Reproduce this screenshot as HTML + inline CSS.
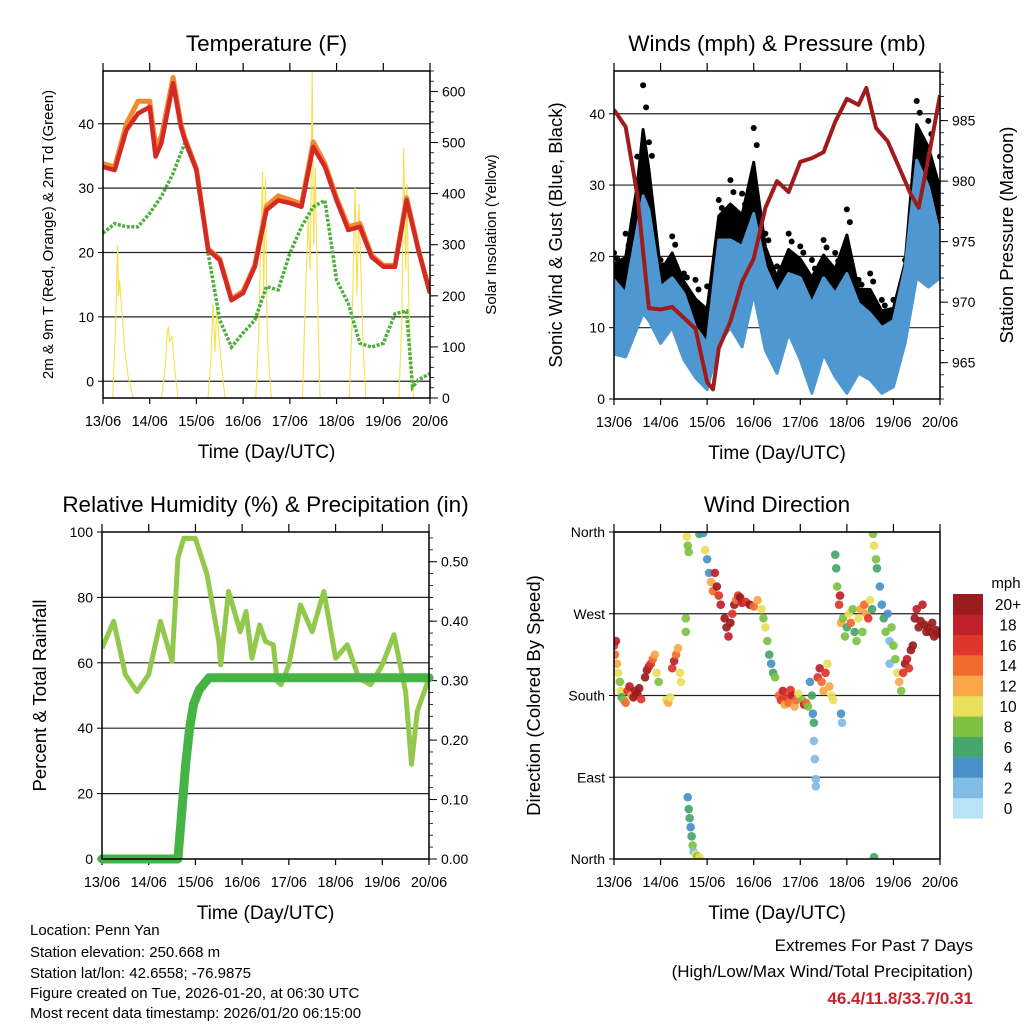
<!DOCTYPE html>
<html><head><meta charset="utf-8"><title>Penn Yan station meteogram</title>
<style>
body{margin:0;background:#fff}
svg text{font-family:"Liberation Sans",Arial,sans-serif;fill:#000}
</style></head>
<body>
<svg id="chart" width="1024" height="1024" viewBox="0 0 1024 1024" xmlns="http://www.w3.org/2000/svg">
<rect width="1024" height="1024" fill="#fff"/>
<g id="layer"></g>
<g font-size="15">
<text x="30" y="935">Location: Penn Yan</text>
<text x="30" y="957">Station elevation: 250.668 m</text>
<text x="30" y="978">Station lat/lon: 42.6558; -76.9875</text>
<text x="30" y="998">Figure created on Tue, 2026-01-20, at 06:30 UTC</text>
<text x="30" y="1018">Most recent data timestamp: 2026/01/20 06:15:00</text>
</g>
<g font-size="17" text-anchor="end">
<text x="973" y="951">Extremes For Past 7 Days</text>
<text x="973" y="977">(High/Low/Max Wind/Total Precipitation)</text>
<text x="973" y="1004" font-weight="bold" style="fill:#c8232c">46.4/11.8/33.7/0.31</text>
</g>
</svg>
<script>
// ---- Temperature panel data ----
const tHours=[0,6,12,18,24,27,30,36,40,42,48,54,60,66,72,78,84,90,96,102,108,114,120,126,132,138,144,150,156,162,168];
const tRed=[33.3,32.8,39,41.6,42.6,34.9,37,46.3,39.5,37.5,32.8,20.4,18.8,12.6,13.7,17.8,26.6,28.1,27.7,27.1,36.4,33.3,28.1,23.5,24,19.3,17.8,17.8,28.1,20.4,13.7];
const tOrange=[33.8,33.3,40,43.5,43.5,36.5,38,47.2,40,37.8,33,20.6,19,12.8,14,18,27.2,28.8,28.2,27.5,37.2,33.8,28.5,24,24.5,19.6,18,18,28.5,20.6,13.7];
const tdHours=[0,6,12,18,24,30,36,42,48,54,60,66,72,78,84,90,96,102,108,114,120,126,132,138,144,150,156,159,162,168];
const tdGreen=[23,24.5,24,24,26.1,28.7,32.3,37,32.8,19.9,9.5,5.3,7.5,9.5,14.7,14.2,19.9,24,27.1,28.1,15.7,12.1,5.9,5.3,5.9,10.5,10.9,-0.9,0.2,1.2];
const solarH=[5,6.5,7.5,8,8.5,9.5,11,13,15.5,30,32,33,33.6,34.2,35.5,37,38.6,54,55.5,56.5,57.5,58.5,59.5,61,62.7,78.5,80,81,82,82.5,83.5,84.2,85,86.5,102.5,104,105.5,106.5,107.5,108.2,109,110.5,111.5,126.5,128,129.5,130.5,131.5,132.5,133.5,135,152,153.5,154.5,155.5,156.2,157,158,159.6];
const solarV=[0,150,300,200,230,180,100,40,0,0,60,130,139,110,120,50,0,0,80,185,90,180,120,60,0,0,120,300,443,200,430,160,80,0,0,200,350,250,638,300,450,150,0,0,150,411,200,380,250,120,0,0,150,489,250,420,200,80,0];
// ---- Wind panel data ----
const wH=[0,6,12,15,18,24,30,36,42,48,54,60,66,72,78,84,90,96,102,108,114,120,126,132,138,144,150,156,162,168];
const wHi=[16.7,14.8,24,28.5,26.5,15.7,17,14.8,10,7.8,22.3,22.3,21.4,26,18.5,14.8,17.6,17,13.4,17,14.8,17.6,13.4,12,10,11,18.5,33.5,29.8,22.8];
const wLo=[6.3,5.9,10,12,11,7.8,10,5.5,3,1.3,7.8,10,7.3,14.8,6.8,3.6,9.2,5.5,0.8,6.3,3.1,0.8,3.6,2.7,0.8,1.7,7.8,17,15.7,17];
const gHi=[20.5,23.2,34,44,36,19.5,22.8,17.6,16.7,15.8,27.9,30.7,28.8,38,23.2,18.6,23.2,21.4,19.5,22.3,20.5,26.6,16.7,17.6,13.9,13.9,19.5,41.8,39,34];
const pH=[0,6,12,18,24,30,36,42,48,51,54,60,66,72,78,84,90,96,102,108,114,120,126,130,135,141,147,153,157,162,168];
const pV=[985.9,984.5,978.9,969.5,969.4,969.6,968.7,967.8,963.4,962.8,966.2,968.4,971.7,973.6,977.8,980,979.1,981.6,981.9,982.4,984.9,986.8,986.3,987.7,984.4,983.3,981.1,978.9,977.8,981.9,987.1];
// ---- RH / precip data ----
const rhH=[0,6,12,18,24,30,36,39,42,48,54,60,61,65,68,71,74,77,81,84,88,90,92,96,102,108,114,120,126,132,138,144,150,156,159,162,168];
const rhV=[64.5,72.7,56.4,51.2,56.4,72.7,60.5,92,98.1,98,86.9,66.5,59.4,81.8,75.7,69.5,75.7,61.4,71.6,66.5,65.5,54.3,53.3,59.4,77.7,69.5,81.8,61.4,65.5,55.3,53.3,59.4,68.6,51.2,29,45.2,55.3];
const prH=[0,39,41,43,45,47,50,55,168];
const prV=[0,0,0.08,0.16,0.22,0.26,0.285,0.305,0.305];
// ---- Wind direction data ----
const dH=[0,0.5,1,1.5,2,3,3.5,4,5,6,7,8,9,10,11,12,13,14,16,17,18,19,20,21,22,23,27,28,29,30,31,32,33,34,34.5,37,37,37.5,38,38.5,38,38.5,39,39.5,40,40.5,41,42,43,44,44,46,47,48,49,50,51,52,53,54,55,57,58,59,60,61,62,63,64,65,66,68,70,72,74,76,77,78,79,80,81,82,83,85,86,87,88,89,90,91,92,93,94,95,97,98,99,100,101,102,102.5,103,103,103.5,104,104,105,106,107,108,109,110,111,112,113,114,114.5,115,116,116.5,117,117,117.5,118,119,120,121,122,123,124,125,126,127,128,129,130,131,132,133,133.5,134,135,135.5,137,138,139,140,141,142,142,143,144,145,146,147,148,149,150,151,152,153,154,155,156,157,158,159,160,161,162,163,164,165,166,167,168,134];
const dDeg=[235,225,240,215,205,195,185,178,175,172,185,190,180,178,185,182,188,176,200,208,212,215,220,225,205,195,175,172,178,210,218,225,232,205,195,265,250,355,345,338,68,55,45,35,25,15,8,5,3,2,358,359,340,330,315,305,295,315,300,290,280,265,255,245,260,270,280,285,290,288,282,283,280,278,285,275,265,255,240,225,215,205,200,180,175,185,170,178,172,186,180,168,175,182,175,170,172,168,195,180,160,150,130,110,88,80,200,210,195,185,205,215,190,180,175,335,320,300,280,290,260,160,150,265,245,255,270,260,275,250,240,265,275,250,280,270,265,285,275,358,345,330,320,300,280,265,250,270,240,215,255,235,220,205,195,185,205,215,220,210,230,235,265,275,255,262,280,258,250,255,250,260,245,252,248,250,2];
const dSpd=[16,14,18,12,10,8,10,6,8,14,16,18,12,20,20,20,20,16,20,20,18,16,14,12,10,8,10,12,10,16,18,14,12,10,10,8,8,10,8,8,4,6,6,4,6,8,2,10,8,10,6,4,10,4,4,12,14,18,20,16,18,20,20,18,20,16,20,14,16,20,18,16,20,14,12,10,8,10,8,6,4,6,8,14,16,18,12,16,14,16,18,12,14,10,8,18,14,8,4,6,4,6,2,2,2,2,16,18,14,12,16,10,12,10,10,6,6,8,16,18,12,4,2,8,8,6,10,14,8,6,8,10,12,8,14,12,16,10,6,8,10,8,6,4,4,6,8,4,2,2,8,8,8,10,12,8,16,20,18,16,20,20,20,18,20,20,18,20,20,20,20,20,20,20,20,20,6];
const spdColors=["#b9e3f7","#7fbce6","#4a90c8","#45a56b","#7dc142","#e8e05a","#f9a748","#f26a2c","#e0352a","#c0202a","#9b1b1e"];
const spdLabels=["0","2","4","6","8","10","12","14","16","18","20+"];
const dayLabels=["13/06","14/06","15/06","16/06","17/06","18/06","19/06","20/06"];

const NS="http://www.w3.org/2000/svg";
const layer=document.getElementById('layer');
function mk(tag,attrs,parent){const e=document.createElementNS(NS,tag);for(const k in attrs)e.setAttribute(k,attrs[k]);(parent||layer).appendChild(e);return e;}
function txt(x,y,s,size,anchor,parent,rot){const t=mk('text',{x:x,y:y,'font-size':size,'text-anchor':anchor||'middle'},parent);if(rot)t.setAttribute('transform','rotate(-90 '+x+' '+y+')');t.textContent=s;return t;}
function poly(hs,vs,sx,sy){return hs.map((h,i)=>sx(h).toFixed(1)+','+sy(vs[i]).toFixed(1)).join(' ');}

function panel(P){
  const g=mk('g',{});
  
  
  const sx=h=>P.L+(h/168)*(P.R-P.L);
  const sy=v=>P.B-(v-P.y0)/(P.y1-P.y0)*(P.B-P.T);
  P.grid.forEach(v=>{const l=mk('line',{x1:P.L,x2:P.R,y1:sy(v),y2:sy(v),stroke:'#222','stroke-width':1.2},g);
    });
  P.yticks.forEach((v,i)=>{mk('line',{x1:P.L-5,x2:P.L,y1:sy(v),y2:sy(v),stroke:'#000','stroke-width':1},g);
    const t=txt(P.L-9,sy(v)+5,P.ylabels[i],14,'end',g);});
  dayLabels.forEach((d,i)=>{const x=sx(i*24);
    mk('line',{x1:x,x2:x,y1:P.B,y2:P.B+6,stroke:'#000','stroke-width':1.2},g);
    mk('line',{x1:x,x2:x,y1:P.T-8,y2:P.T,stroke:'#000','stroke-width':1.2},g);
    const t=txt(x,P.B+28,d,14.5,'middle',g);});
  if(P.r){const r=P.r;const ry=v=>P.B-(v-r.y0)/(r.y1-r.y0)*(P.B-P.T);
    for(let v=r.minor0;v<=r.y1+1e-9;v+=r.minorStep){if(v<r.y0-1e-9)continue;mk('line',{x1:P.R,x2:P.R+4,y1:ry(v),y2:ry(v),stroke:'#000','stroke-width':0.8},g);}
    r.ticks.forEach((v,i)=>{mk('line',{x1:P.R,x2:P.R+8,y1:ry(v),y2:ry(v),stroke:'#000','stroke-width':1},g);
      const t=txt(P.R+12,ry(v)+5,r.labels[i],14,'start',g);});
    const rt=txt(r.titleX,(P.T+P.B)/2,r.title,r.titleSize,'middle',g,true);
    P.ry=ry;}
  const tt=txt((P.L+P.R)/2,P.T-20,P.title,22.5,'middle',g);
  const xt=txt((P.L+P.R)/2,P.B+60,'Time (Day/UTC)',19,'middle',g);
  const yt=txt(P.ytX,(P.T+P.B)/2,P.ytitle,P.ytSize,'middle',g,true);
  const clip=mk('clipPath',{id:'clip-'+P.name},g);mk('rect',{x:P.L,y:P.T,width:P.R-P.L,height:P.B-P.T},clip);
  const data=mk('g',{'clip-path':'url(#clip-'+P.name+')'},g);
  
  P.sx=sx;P.sy=sy;P.g=g;P.data=data;
  return P;
}
function box(P){const b=mk('rect',{x:P.L,y:P.T,width:P.R-P.L,height:P.B-P.T,fill:'none',stroke:'#000','stroke-width':1.5},P.g);
  }

// Panel 1: temperature
const P1=panel({name:'temperature-panel',L:103,R:430,T:71,B:398,y0:-2.6,y1:48.2,grid:[0,10,20,30,40],yticks:[0,10,20,30,40],ylabels:['0','10','20','30','40'],
  title:'Temperature (F)',ytitle:'2m & 9m T (Red, Orange) & 2m Td (Green)',ytX:53,ytSize:15,
  r:{y0:0,y1:640,ticks:[0,100,200,300,400,500,600],labels:['0','100','200','300','400','500','600'],minor0:0,minorStep:20,title:'Solar Insolation (Yellow)',titleX:496,titleSize:15}});
let e;
e=mk('polyline',{points:poly(solarH,solarV,P1.sx,P1.ry),fill:'none',stroke:'#f7df4a','stroke-width':1.1},P1.data);

e=mk('polyline',{points:poly(tdHours,tdGreen,P1.sx,P1.sy),fill:'none',stroke:'#4caf3e','stroke-width':3.5,'stroke-dasharray':'3 1.6'},P1.data);

e=mk('polyline',{points:poly(tHours,tOrange,P1.sx,P1.sy),fill:'none',stroke:'#f08a2c','stroke-width':5,'stroke-linejoin':'round'},P1.data);

e=mk('polyline',{points:poly(tHours,tRed,P1.sx,P1.sy),fill:'none',stroke:'#d42a26','stroke-width':4.5,'stroke-linejoin':'round'},P1.data);

box(P1);

// Panel 2: winds & pressure
const P2=panel({name:'winds-pressure-panel',L:614,R:940,T:71,B:399,y0:0,y1:46,grid:[10,20,30,40],yticks:[0,10,20,30,40],ylabels:['0','10','20','30','40'],
  title:'Winds (mph) & Pressure (mb)',ytitle:'Sonic Wind & Gust (Blue, Black)',ytX:562,ytSize:18.5,
  r:{y0:962,y1:989.1,ticks:[965,970,975,980,985],labels:['965','970','975','980','985'],minor0:962,minorStep:1,title:'Station Pressure (Maroon)',titleX:1013,titleSize:18.5}});
{const top=wH.map((h,i)=>P2.sx(h).toFixed(1)+','+P2.sy(wHi[i]+0.6*(gHi[i]-wHi[i])).toFixed(1));
 const bot=wH.map((h,i)=>P2.sx(h).toFixed(1)+','+P2.sy(wHi[i]).toFixed(1)).reverse();
 e=mk('polygon',{points:top.concat(bot).join(' '),fill:'#000',stroke:'#000','stroke-width':3,'stroke-linejoin':'round'},P2.data);
 
 gHi.forEach((v,i)=>{const c=mk('circle',{cx:P2.sx(wH[i]),cy:P2.sy(v),r:3,fill:'#000'},P2.data);
   
   const c2=mk('circle',{cx:P2.sx(wH[i])+3,cy:P2.sy(wHi[i]+0.8*(v-wHi[i])),r:3,fill:'#000'},P2.data);
   });
 const top2=wH.map((h,i)=>P2.sx(h).toFixed(1)+','+P2.sy(wHi[i]).toFixed(1));
 const bot2=wH.map((h,i)=>P2.sx(h).toFixed(1)+','+P2.sy(wLo[i]).toFixed(1)).reverse();
 e=mk('polygon',{points:top2.concat(bot2).join(' '),fill:'#4f97d1',stroke:'#4f97d1','stroke-width':3,'stroke-linejoin':'round'},P2.data);
 }
e=mk('polyline',{points:poly(pH,pV,P2.sx,P2.ry),fill:'none',stroke:'#a01c1c','stroke-width':4,'stroke-linejoin':'round'},P2.data);

box(P2);

// Panel 3: RH & precip
const P3=panel({name:'humidity-precip-panel',L:102,R:429,T:532,B:859,y0:0,y1:100,grid:[20,40,60,80],yticks:[0,20,40,60,80,100],ylabels:['0','20','40','60','80','100'],
  title:'Relative Humidity (%) & Precipitation (in)',ytitle:'Percent & Total Rainfall',ytX:46,ytSize:18.5,
  r:{y0:0,y1:0.55,ticks:[0,0.1,0.2,0.3,0.4,0.5],labels:['0.00','0.10','0.20','0.30','0.40','0.50'],minor0:0,minorStep:0.02,title:'',titleX:480,titleSize:15}});
e=mk('polyline',{points:poly(rhH,rhV,P3.sx,P3.sy),fill:'none',stroke:'#92c84c','stroke-width':5,'stroke-linejoin':'round'},P3.data);

e=mk('polyline',{points:poly(prH,prV,P3.sx,P3.ry),fill:'none',stroke:'#46b347','stroke-width':9,'stroke-linejoin':'round','stroke-linecap':'round'},P3.g);

box(P3);

// Panel 4: wind direction
const P4=panel({name:'wind-direction-panel',L:614,R:940,T:532,B:859,y0:0,y1:360,grid:[90,180,270,360],yticks:[0,90,180,270,360],ylabels:['North','East','South','West','North'],
  title:'Wind Direction',ytitle:'Direction (Colored By Speed)',ytX:540,ytSize:18.5});
dH.forEach((h,i)=>{const k=Math.min(10,Math.floor(dSpd[i]/2));
  const c=mk('circle',{cx:P4.sx(h),cy:P4.sy(dDeg[i]),r:4.3,fill:spdColors[k],'fill-opacity':0.92},P4.data);
  });
box(P4);
// colorbar
{const cb=mk('g',{});
 const t=txt(1006,588,'mph',15,'middle',cb);
 spdColors.forEach((c,i)=>{const y=594+(10-i)*20.4;
   const r=mk('rect',{x:953,y:y,width:30,height:20.6,fill:c},cb);
   const l=txt(1008,y+16,spdLabels[i],15.5,'middle',cb);});}
</script>
</body></html>
